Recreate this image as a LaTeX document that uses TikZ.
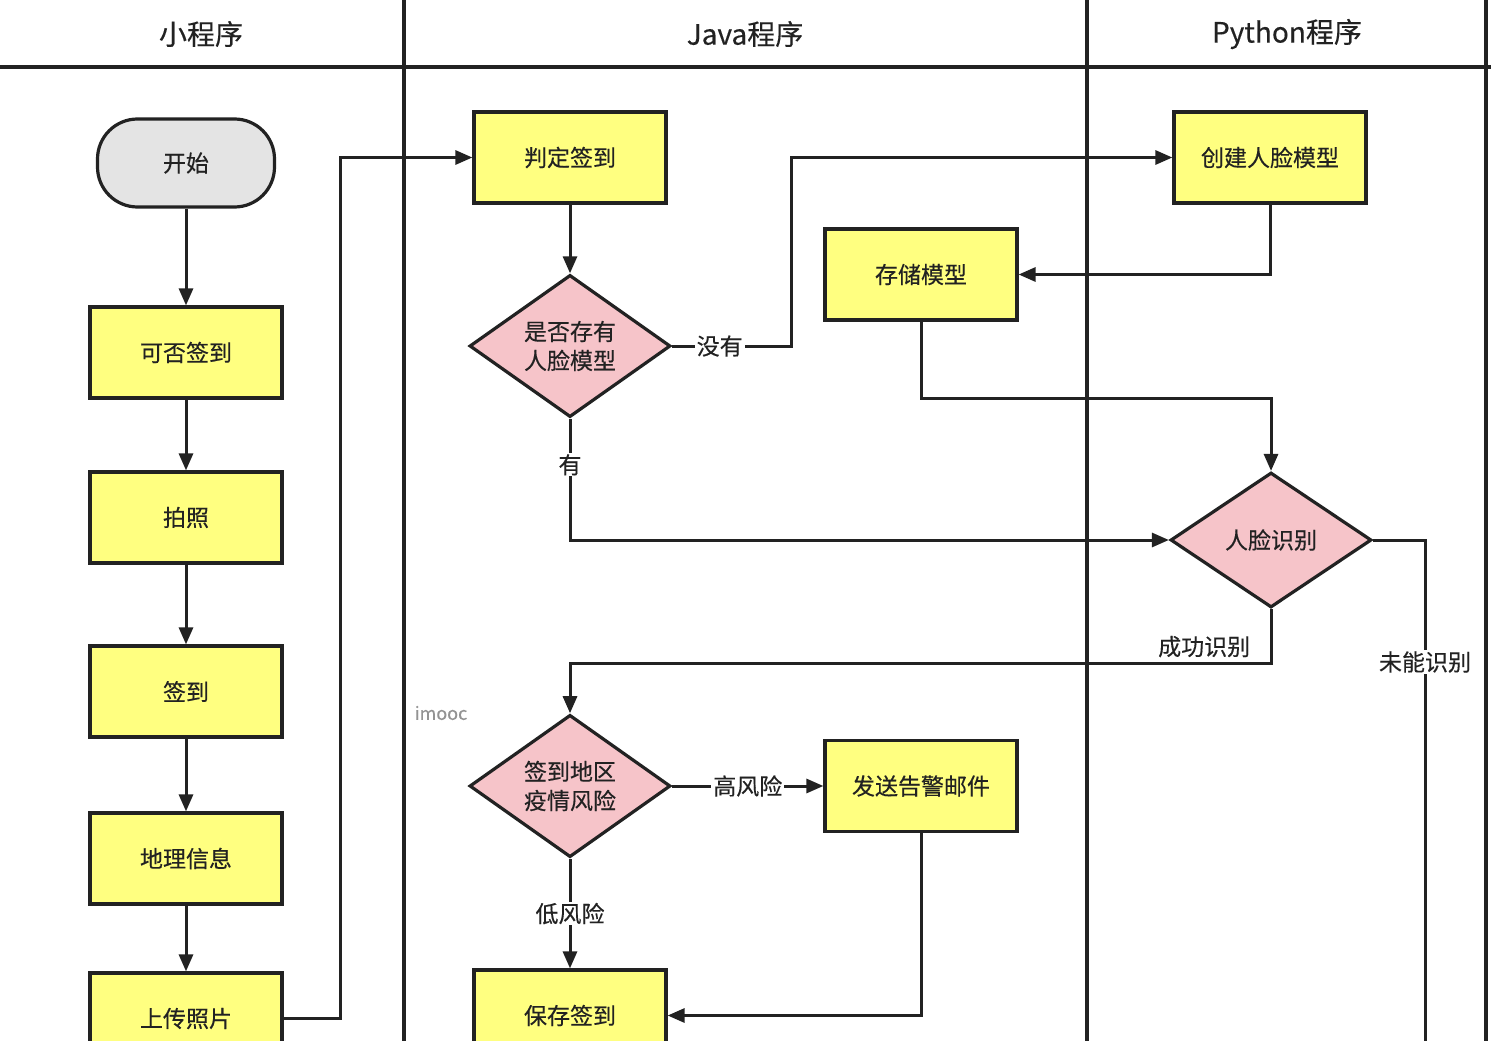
\documentclass[tikz,border=0pt]{standalone}
\usepackage{fontspec}
\newfontfamily\cjk[FakeBold=0.3]{Noto Sans CJK SC}
\usetikzlibrary{shapes.geometric,arrows.meta,calc}
\definecolor{boxyellow}{HTML}{FFFF80}
\definecolor{dpink}{HTML}{F6C4C9}
\definecolor{termgray}{HTML}{E4E4E4}
\definecolor{ink}{HTML}{222222}
\tikzset{
  lane/.style={line width=3.2pt, draw=ink},
  procbox/.style={draw=ink, line width=3.2pt, fill=boxyellow, minimum width=192pt, minimum height=91pt, inner sep=0pt, font=\cjk\fontsize{23}{27}\selectfont, text=ink},
  termbox/.style={draw=ink, line width=3.2pt, fill=termgray, minimum width=177pt, minimum height=88pt, rounded corners=40pt, inner sep=0pt, font=\cjk\fontsize{23}{27}\selectfont, text=ink},
  decbox/.style={diamond, draw=ink, line width=3.2pt, fill=dpink, minimum width=201pt, minimum height=135pt, inner sep=0pt, align=center, font=\cjk\fontsize{23}{29}\selectfont, text=ink},
  conn/.style={line width=3pt, draw=ink},
  arr/.style={conn, -{Triangle[length=17pt,width=14pt]}},
  lab/.style={fill=white, inner xsep=2pt, inner ysep=1pt, font=\cjk\fontsize{23}{27}\selectfont, text=ink},
  lanetitle/.style={font=\cjk\fontsize{28}{32}\selectfont, text=ink}
}
\begin{document}
\begin{tikzpicture}[x=1pt,y=-1pt]
\useasboundingbox (0,0) rectangle (1491,1041);
\clip (0,0) rectangle (1491,1041);
\fill[white] (0,0) rectangle (1491,1041);
% lanes
\draw[lane] (0,67) -- (1491,67);
\draw[lane] (404,0) -- (404,1041);
\draw[lane] (1087,0) -- (1087,1041);
\draw[lane] (1486,0) -- (1486,1041);
\node[lanetitle] (t1) at (201,34) {小程序};
\node[lanetitle] (t2) at (745,34) {Java程序};
\node[lanetitle] (t3) at (1287,34) {Python程序};
% watermark
\node[font=\cjk\fontsize{18}{21}\selectfont, text=gray!85] (wm) at (441,713) {imooc};
% nodes
\node[termbox] (start) at (186,163) {开始};
\node[procbox] (can) at (186,352.5) {可否签到};
\node[procbox] (photo) at (186,517.5) {拍照};
\node[procbox] (sign) at (186,691.5) {签到};
\node[procbox] (geo) at (186,858.5) {地理信息};
\node[procbox] (upload) at (186,1018.5) {上传照片};
\node[procbox] (judge) at (570,157.5) {判定签到};
\node[decbox] (hasmodel) at (570,346) {是否存有\\人脸模型};
\node[procbox] (create) at (1270,157.5) {创建人脸模型};
\node[procbox] (store) at (921,274.5) {存储模型};
\node[decbox] (face) at (1271,540) {人脸识别};
\node[decbox] (risk) at (570,786) {签到地区\\疫情风险};
\node[procbox] (mail) at (921,786) {发送告警邮件};
\node[procbox] (save) at (570,1015.5) {保存签到};
\coordinate (failend) at (1425,1080);
% connectors
\draw[arr] (start) -- (can);
\draw[arr] (can) -- (photo);
\draw[arr] (photo) -- (sign);
\draw[arr] (sign) -- (geo);
\draw[arr] (geo) -- (upload);
\draw[arr] (upload.east) -- ++(57,0) |- (judge.west);
\draw[arr] (judge) -- (hasmodel);
\draw[arr] (hasmodel.east) -- node[lab, pos=0.4]{没有} ++(119,0) |- (create.west);
\draw[arr] (create.south) |- (store.east);
\draw[arr] (store.south) -- ++(0,77) -| (face.north);
\draw[arr] (hasmodel.south) |- node[lab, pos=0.19]{有} (face.west);
\draw[arr] (face.south) -- ++(0,54) node[anchor=south east, xshift=-16pt, yshift=1pt, font=\cjk\fontsize{23}{27}\selectfont, text=ink]{成功识别} -| (risk.north);
\draw[conn] (face.east) -| node[lab, pos=0.613]{未能识别} (failend);
\draw[arr] (risk.east) -- node[lab]{高风险} (mail.west);
\draw[arr] (risk.south) -- node[lab]{低风险} (save.north);
\draw[arr] (mail.south) |- (save.east);
\end{tikzpicture}
\end{document}
